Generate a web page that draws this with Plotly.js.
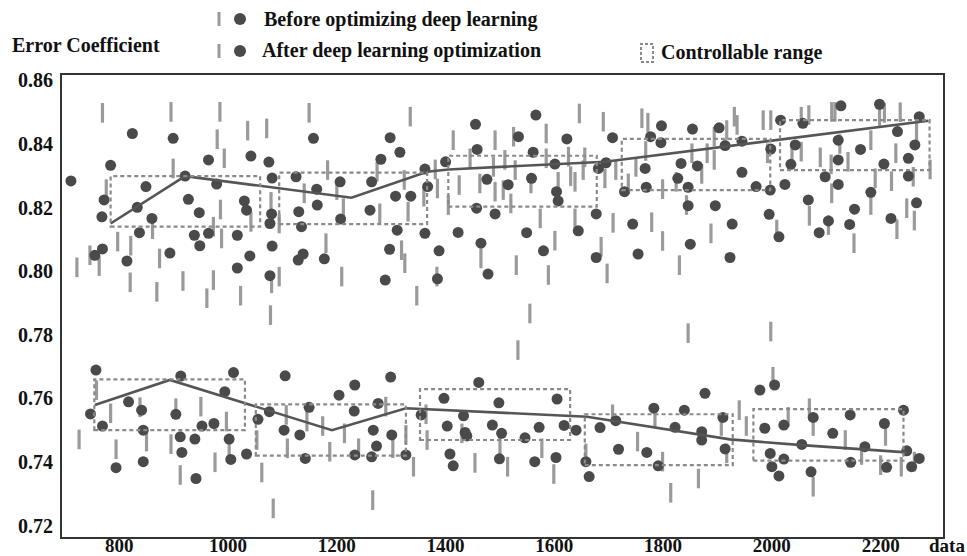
<!DOCTYPE html>
<html>
<head>
<meta charset="utf-8">
<script src="https://cdn.plot.ly/plotly-3.0.1.min.js"></script>
<style>html,body{margin:0;padding:0;background:#fff;}#chart{width:967px;height:556px;}</style>
</head>
<body>
<div id="chart"></div>
<script>
// ---------- data ----------
const xTicks = [800, 1000, 1200, 1400, 1600, 1800, 2000, 2200];
const yTicks = [0.72, 0.74, 0.76, 0.78, 0.80, 0.82, 0.84, 0.86];
const yTickText = ['0.72', '0.74', '0.76', '0.78', '0.80', '0.82', '0.84', '0.86'];

const beforeDotX = [711,824,899,784,772,768,849,833,860,837,769,755,814,893,921,927,947,938,948,964,964,979,1017,1017,1030,1034,1042,1040,1075,1081,1080,1077,1081,1077,1125,1130,1135,1138,1129,1157,1163,1164,1177,1206,1207,1298,1316,1281,1264,1261,1308,1336,1311,1297,1289,1362,1367,1362,1388,1385,1400,1423,1455,1458,1476,1457,1465,1478,1491,1515,1534,1549,1558,1561,1566,1580,1601,1604,1607,1623,1644,1677,1677,1681,1695,1707,1729,1744,1754,1767,1769,1777,1797,1796,1854,1833,1863,1827,1846,1846,1896,1850,1903,1914,1945,1945,1927,1923,1971,1998,1997,1995,2013,2016,2024,2035,2043,2057,2067,2087,2098,2104,2122,2122,2122,2127,2143,2152,2163,2182,2198,2206,2219,2231,2251,2251,2263,2266,2271];
const beforeDotY = [0.8284,0.8433,0.8418,0.8333,0.8224,0.8171,0.8266,0.8201,0.8166,0.8121,0.8070,0.8050,0.8032,0.8057,0.8299,0.8226,0.8184,0.8113,0.8080,0.8119,0.8350,0.8274,0.8113,0.8010,0.8221,0.8192,0.8362,0.8048,0.8343,0.8293,0.8180,0.8150,0.8079,0.7986,0.8297,0.8187,0.8140,0.8054,0.8035,0.8418,0.8258,0.8208,0.8039,0.8281,0.8164,0.8420,0.8374,0.8352,0.8281,0.8192,0.8236,0.8236,0.8129,0.8069,0.7972,0.8321,0.8266,0.8119,0.8064,0.7976,0.8344,0.8122,0.8462,0.8383,0.8289,0.8198,0.8088,0.7991,0.8180,0.8272,0.8423,0.8121,0.8292,0.8374,0.8491,0.8064,0.8337,0.8250,0.8221,0.8416,0.8127,0.8180,0.8043,0.8323,0.8341,0.8420,0.8250,0.8148,0.8054,0.8323,0.8264,0.8423,0.8457,0.8404,0.8447,0.8339,0.8331,0.8292,0.8264,0.8206,0.8206,0.8085,0.8451,0.8395,0.8409,0.8311,0.8148,0.8043,0.8266,0.8384,0.8255,0.8179,0.8108,0.8475,0.8273,0.8336,0.8397,0.8465,0.8224,0.8121,0.8297,0.8158,0.8412,0.8350,0.8273,0.8520,0.8147,0.8195,0.8383,0.8248,0.8525,0.8337,0.8166,0.8439,0.8355,0.8299,0.8397,0.8215,0.8486];

const beforeBarX = [722,769,776,746,763,797,820,821,861,869,874,895,899,917,961,973,973,980,985,986,988,993,1023,1036,1042,1071,1079,1080,1078,1094,1094,1140,1149,1180,1183,1200,1209,1212,1274,1279,1319,1325,1324,1331,1335,1347,1360,1381,1385,1384,1405,1414,1425,1445,1463,1465,1491,1491,1488,1506,1509,1525,1528,1530,1520,1555,1557,1574,1585,1585,1589,1601,1607,1626,1630,1638,1638,1646,1656,1653,1686,1690,1697,1693,1708,1713,1736,1750,1761,1772,1768,1779,1799,1799,1824,1830,1853,1843,1871,1881,1888,1894,1894,1917,1931,1936,1984,1998,1992,2009,2037,2054,2068,2054,2069,2089,2110,2116,2109,2110,2104,2125,2140,2151,2182,2182,2190,2198,2207,2220,2228,2230,2236,2248,2260,2262,2266,2291];
const beforeBarY = [0.8012,0.8498,0.8258,0.8050,0.8016,0.8093,0.7965,0.8080,0.8132,0.7935,0.8040,0.8501,0.8323,0.7969,0.7915,0.7972,0.8140,0.8415,0.8501,0.8194,0.8103,0.8355,0.7923,0.8442,0.8155,0.8449,0.8218,0.7962,0.7862,0.7983,0.8150,0.8245,0.8498,0.8088,0.8318,0.8255,0.7983,0.8198,0.8313,0.8182,0.8066,0.8025,0.8287,0.8187,0.8486,0.7923,0.8234,0.8320,0.8260,0.7983,0.8208,0.8412,0.8271,0.8355,0.8276,0.8040,0.8250,0.8412,0.8328,0.8255,0.8350,0.8423,0.8318,0.8019,0.8213,0.7867,0.8276,0.8166,0.8433,0.8355,0.7988,0.8096,0.8281,0.8360,0.8299,0.8281,0.8166,0.8496,0.8358,0.8318,0.8077,0.8470,0.7993,0.8292,0.8152,0.8318,0.8276,0.8328,0.8481,0.8467,0.8378,0.8154,0.8095,0.8258,0.8281,0.8019,0.8371,0.8208,0.8306,0.8371,0.8119,0.8350,0.8423,0.8444,0.8486,0.8460,0.8475,0.8475,0.8371,0.8131,0.8363,0.8486,0.8491,0.8376,0.8174,0.8358,0.8501,0.8501,0.8336,0.8245,0.8145,0.8400,0.8344,0.8088,0.8208,0.8412,0.8292,0.8488,0.8498,0.8283,0.8371,0.8132,0.8500,0.8198,0.8297,0.8159,0.8435,0.8320];

const afterDotX = [757,747,769,817,841,844,794,844,904,913,912,915,939,941,952,974,994,1010,1002,1005,1034,1055,1076,1105,1103,1132,1142,1149,1204,1233,1232,1267,1273,1233,1264,1276,1299,1301,1327,1355,1397,1403,1408,1414,1433,1436,1439,1461,1486,1498,1503,1499,1546,1564,1572,1605,1603,1618,1640,1658,1664,1684,1713,1718,1770,1783,1791,1839,1822,1877,1871,1871,1910,1914,1978,2005,1987,1997,2000,2013,2022,2022,2055,2076,2072,2112,2144,2145,2171,2207,2211,2242,2248,2257,2271];
const afterDotY = [0.7689,0.7551,0.7513,0.7589,0.7563,0.7500,0.7382,0.7401,0.7550,0.7670,0.7479,0.7430,0.7472,0.7348,0.7513,0.7521,0.7621,0.7681,0.7472,0.7408,0.7425,0.7534,0.7558,0.7671,0.7500,0.7485,0.7411,0.7572,0.7610,0.7642,0.7560,0.7500,0.7450,0.7422,0.7416,0.7584,0.7667,0.7485,0.7422,0.7548,0.7600,0.7513,0.7425,0.7388,0.7545,0.7493,0.7482,0.7650,0.7516,0.7586,0.7490,0.7410,0.7476,0.7401,0.7509,0.7598,0.7414,0.7515,0.7500,0.7401,0.7354,0.7508,0.7530,0.7440,0.7430,0.7569,0.7388,0.7563,0.7509,0.7616,0.7495,0.7469,0.7540,0.7441,0.7626,0.7642,0.7506,0.7427,0.7385,0.7356,0.7516,0.7409,0.7455,0.7540,0.7369,0.7490,0.7548,0.7399,0.7448,0.7521,0.7383,0.7563,0.7435,0.7385,0.7411];

const afterBarX = [726,758,784,794,838,850,895,904,912,950,976,997,1002,1062,1053,1083,1107,1109,1145,1174,1187,1214,1240,1266,1290,1303,1327,1341,1364,1366,1430,1454,1500,1514,1533,1577,1599,1658,1707,1753,1799,1785,1814,1865,1907,1917,1940,1953,2002,2030,2069,2076,2076,2135,2165,2200,2209,2238,2262,1846,1998];
const afterBarY = [0.7471,0.7626,0.7553,0.7440,0.7572,0.7464,0.7456,0.7569,0.7359,0.7574,0.7399,0.7527,0.7443,0.7367,0.7469,0.7254,0.7548,0.7443,0.7527,0.7513,0.7432,0.7490,0.7443,0.7280,0.7574,0.7443,0.7485,0.7385,0.7550,0.7469,0.7490,0.7397,0.7453,0.7385,0.7752,0.7443,0.7362,0.7427,0.7550,0.7464,0.7401,0.7537,0.7303,0.7348,0.7513,0.7427,0.7563,0.7513,0.7668,0.7542,0.7569,0.7513,0.7322,0.7469,0.7422,0.7390,0.7482,0.7385,0.7401,0.7805,0.7810];

const beforeTrendX = [784, 921, 1227, 1366, 1405, 1693, 2288];
const beforeTrendY = [0.8150, 0.8299, 0.8231, 0.8313, 0.8320, 0.8344, 0.8473];
const afterTrendX = [755, 893, 1191, 1327, 1660, 1776, 1923, 2055, 2248];
const afterTrendY = [0.7579, 0.7658, 0.7500, 0.7569, 0.7542, 0.7511, 0.7471, 0.7453, 0.7430];

// controllable ranges
const beforeBoxX0 = [784, 1094, 1405, 1724, 2015];
const beforeBoxX1 = [1059, 1366, 1678, 1997, 2290];
const beforeBoxY0 = [0.8140, 0.8148, 0.8203, 0.8255, 0.8318];
const beforeBoxY1 = [0.8299, 0.8310, 0.8363, 0.8416, 0.8475];
const afterBoxX0 = [754, 1051, 1353, 1656, 1966];
const afterBoxX1 = [1031, 1327, 1629, 1928, 2242];
const afterBoxY0 = [0.7500, 0.7420, 0.7469, 0.7390, 0.7404];
const afterBoxY1 = [0.7660, 0.7581, 0.7629, 0.7550, 0.7566];

const legendLabels = ['Before optimizing deep learning', 'After deep learning optimization', 'Controllable range'];
const yAxisLabel = 'Error Coefficient';
const xAxisLabel = 'data';

// ---------- style ----------
const FONT = {family: 'Liberation Serif, Times New Roman, serif', size: 20, color: '#111', weight: 'bold'};
const XFONT = Object.assign({}, FONT, {size: 19});
const DOT = '#4a4a4a', BAR = '#9a9a9a', LINE = '#555555', BOXC = '#8a8a8a';
const W = 967, H = 556, L = 62, R = 943, T = 75, B = 537;
const px = v => (v - L) / (R - L);
const py = v => (B - v) / (B - T);

const barTrace = (x, y, name) => ({x, y, name, type: 'scatter', mode: 'markers',
  marker: {symbol: 'line-ns', size: 14, line: {width: 3.2, color: BAR}, color: BAR}});
const dotTrace = (x, y, name) => ({x, y, name, type: 'scatter', mode: 'markers',
  marker: {symbol: 'circle', size: 11, color: DOT, line: {width: 0}}});
const lineTrace = (x, y, name) => ({x, y, name, type: 'scatter', mode: 'lines',
  line: {color: LINE, width: 2.6}});

const traces = [
  barTrace(beforeBarX, beforeBarY, 'Before (bars)'),
  barTrace(afterBarX, afterBarY, 'After (bars)'),
  dotTrace(beforeDotX, beforeDotY, 'Before (dots)'),
  dotTrace(afterDotX, afterDotY, 'After (dots)'),
  lineTrace(beforeTrendX, beforeTrendY, 'Before trend'),
  lineTrace(afterTrendX, afterTrendY, 'After trend')
];

const shapes = [];
function addBoxes(x0, x1, y0, y1) {
  for (let i = 0; i < x0.length; i++) {
    shapes.push({type: 'rect', xref: 'x', yref: 'y', x0: x0[i], x1: x1[i], y0: y0[i], y1: y1[i],
      line: {color: BOXC, width: 2.2, dash: '4px,3px'}, fillcolor: 'rgba(0,0,0,0)', layer: 'above'});
  }
}
addBoxes(beforeBoxX0, beforeBoxX1, beforeBoxY0, beforeBoxY1);
addBoxes(afterBoxX0, afterBoxX1, afterBoxY0, afterBoxY1);

// legend icons
[19, 51].forEach(cy => {
  shapes.push({type: 'rect', xref: 'paper', yref: 'paper', x0: px(217.5), x1: px(220.5), y0: py(cy + 7), y1: py(cy - 7),
    fillcolor: BAR, line: {width: 0}});
  shapes.push({type: 'circle', xref: 'paper', yref: 'paper', x0: px(234), x1: px(246), y0: py(cy + 6), y1: py(cy - 6),
    fillcolor: DOT, line: {width: 0}});
});
shapes.push({type: 'rect', xref: 'paper', yref: 'paper', x0: px(641), x1: px(653), y0: py(62), y1: py(44),
  line: {color: BOXC, width: 2, dash: '3px,2px'}, fillcolor: 'rgba(0,0,0,0)'});

const annotations = [
  {text: legendLabels[0], x: px(262), y: py(19), xanchor: 'left', yanchor: 'middle'},
  {text: legendLabels[1], x: px(260), y: py(51), xanchor: 'left', yanchor: 'middle'},
  {text: legendLabels[2], x: px(659), y: py(53), xanchor: 'left', yanchor: 'middle'},
  {text: yAxisLabel, x: px(10), y: py(45), xanchor: 'left', yanchor: 'middle'},
  {text: xAxisLabel, x: px(927), y: py(545), xanchor: 'left', yanchor: 'middle', font: XFONT}
].map(a => Object.assign({xref: 'paper', yref: 'paper', showarrow: false, font: FONT}, a));

const layout = {
  width: W, height: H,
  margin: {l: L, r: W - R, t: T, b: H - B, pad: 0},
  paper_bgcolor: '#fff', plot_bgcolor: '#fff',
  showlegend: false,
  font: FONT,
  xaxis: {range: [694.6, 2314.7], tickmode: 'array', tickvals: xTicks, ticktext: xTicks.map(String),
    showgrid: false, zeroline: false, showline: true, mirror: true, linecolor: '#333', linewidth: 2,
    ticks: '', tickfont: XFONT, automargin: false, ticklabelstandoff: -10},
  yaxis: {range: [0.7164, 0.8617], tickmode: 'array', tickvals: yTicks, ticktext: yTickText,
    showgrid: false, zeroline: false, showline: true, mirror: true, linecolor: '#333', linewidth: 2,
    ticks: '', tickfont: FONT, automargin: false, ticklabelstandoff: 3},
  shapes, annotations
};

Plotly.newPlot('chart', traces, layout, {displayModeBar: false, staticPlot: true});
</script>
</body>
</html>
